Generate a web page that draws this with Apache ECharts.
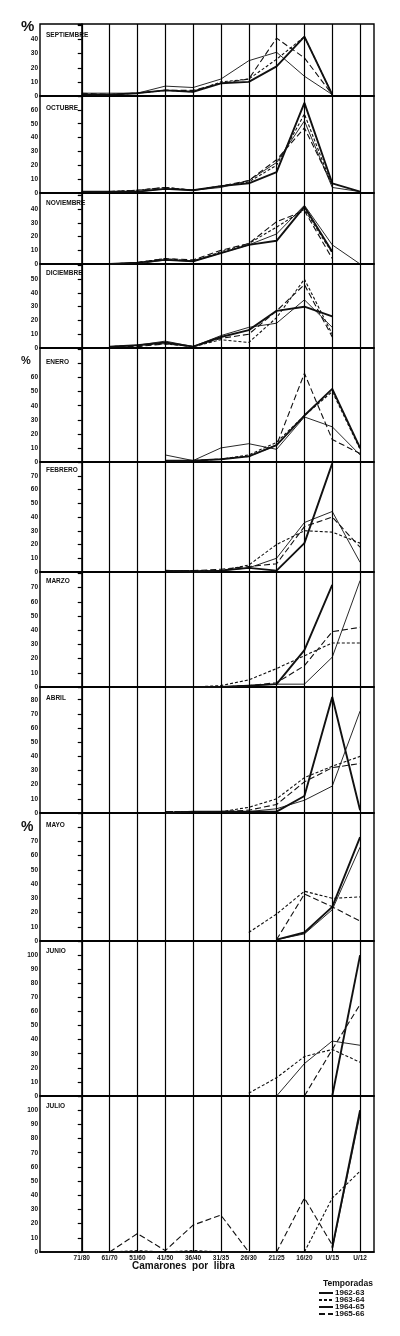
<!DOCTYPE html>
<html><head><meta charset="utf-8">
<script src="https://cdn.jsdelivr.net/npm/echarts@6/dist/echarts.min.js"></script>
<style>html,body{margin:0;padding:0;background:#fff}#c{width:400px;height:1336px}</style>
</head><body><div id="c"></div><script>
// ---- data ----
const categories = ['71/80','61/70','51/60','41/50','36/40','31/35','26/30','21/25','16/20','U/15','U/12'];
const seasons = ['1962-63','1963-64','1964-65','1965-66'];
const months = ['SEPTIEMBRE','OCTUBRE','NOVIEMBRE','DICIEMBRE','ENERO','FEBRERO','MARZO','ABRIL','MAYO','JUNIO','JULIO'];
const yTickLabelMax = [40,60,40,50,60,70,70,80,70,100,100];
const n = null;
// rows: 1962-63, 1963-64, 1964-65, 1965-66 (percent by category)
const septiembre = [
  [1,1,2,4,3,9,10,21,42,1,n],
  [1,1,2,4,3,10,12,26,42,1,n],
  [2,2,2,7,6,12,25,31,14,1,n],
  [2,1,2,4,4,9,12,41,27,1,n]];
const octubre = [
  [1,1,1,3,2,5,7,15,65,7,1],
  [1,1,2,4,2,5,8,20,57,5,n],
  [1,1,1,3,2,4,9,22,52,4,1],
  [1,1,2,4,2,5,9,24,47,6,n]];
const noviembre = [
  [n,0,1,3,2,8,14,17,42,9,n],
  [n,0,1,4,2,9,15,27,40,8,n],
  [n,0,0,3,2,8,14,22,43,14,0],
  [n,0,1,4,3,10,15,31,39,4,n]];
const diciembre = [
  [n,1,2,4,1,8,13,27,30,23,n],
  [n,1,2,3,1,6,4,22,50,10,n],
  [n,1,2,5,1,9,15,18,35,15,n],
  [n,1,1,3,1,7,10,27,46,8,n]];
const enero = [
  [n,n,n,1,1,2,4,12,33,52,10],
  [n,n,n,1,1,2,5,14,33,50,9],
  [n,n,n,5,1,10,13,9,32,25,5],
  [n,n,n,1,1,2,4,12,63,16,6]];
const febrero = [
  [n,n,n,1,0,1,3,1,21,79,n],
  [n,n,n,1,1,1,5,20,30,29,21],
  [n,n,n,1,1,1,3,10,36,44,7],
  [n,n,n,1,1,2,4,6,33,40,18]];
const marzo = [
  [n,n,n,0,0,0,1,2,26,72,n],
  [n,n,n,0,0,1,5,13,22,31,31],
  [n,n,n,0,0,0,1,2,2,21,75],
  [n,n,n,0,0,0,1,3,15,39,42]];
const abril = [
  [n,n,n,0,1,1,1,1,12,82,2],
  [n,n,n,1,1,1,4,10,25,33,40],
  [n,n,n,0,1,1,1,3,9,19,72],
  [n,n,n,1,1,1,2,6,22,32,35]];
const mayo = [
  [n,n,n,n,n,n,n,1,6,24,73],
  [n,n,n,n,n,n,6,19,35,30,31],
  [n,n,n,n,n,n,n,1,5,22,66],
  [n,n,n,n,n,n,n,1,33,24,14]];
const junio = [
  [n,n,n,n,n,n,n,n,n,0,100],
  [n,n,n,n,n,n,2,13,28,33,24],
  [n,n,n,n,n,n,n,0,23,39,36],
  [n,n,n,n,n,n,n,n,0,33,65]];
const julio = [
  [n,n,n,n,n,n,n,n,n,3,100],
  [n,0,1,0,1,0,0,0,0,38,57],
  [n,n,n,n,n,n,n,n,n,2,97],
  [n,0,13,1,19,26,0,0,38,5,n]];
const monthData = [septiembre,octubre,noviembre,diciembre,enero,febrero,marzo,abril,mayo,junio,julio];

// ---- layout ----
const panelTops = [24,96,193,264,348,462,572,687,813,941,1096];
const panelBottom = 1252;
const panelMax = [51,70,52,61,81,80,81,89,90,110,110];
const lineStyles = [
  {width:1.9, type:'solid', color:'#111'},
  {width:1.1, type:[3,2], color:'#111'},
  {width:0.9, type:'solid', color:'#111'},
  {width:1.1, type:[6,3], color:'#111'}];
const FONT = 'Liberation Sans';

const grids=[], xAxes=[], yAxes=[], series=[], graphics=[];
panelTops.forEach((top,i)=>{
  const bottom = i<panelTops.length-1 ? panelTops[i+1] : panelBottom;
  grids.push({left:40, width:334, top:top, height:bottom-top, show:true, borderColor:'#000', borderWidth:1.4});
  const last = i===panelTops.length-1;
  xAxes.push({gridIndex:i, type:'value', min:-1.5, max:10.5, interval:0.5,
    axisLine:{show:true, onZero:false, lineStyle:{color:'#000', width:1.6}},
    axisTick:{show:false}, splitLine:{show:false},
    axisLabel: last ? {show:true, fontSize:6.5, fontWeight:'bold', fontFamily:FONT, color:'#111', margin:3,
      formatter:v=>{const r=Math.round(v); return (Math.abs(v-r)<1e-6 && r>=0 && r<categories.length)?categories[r]:'';}} : {show:false}});
  const lim = yTickLabelMax[i];
  yAxes.push({gridIndex:i, type:'value', min:0, max:panelMax[i], interval:10,
    axisLine:{show:true, lineStyle:{color:'#000', width:1.6}},
    axisTick:{show:true, length:4, lineStyle:{color:'#000', width:1.2}},
    splitLine:{show:false},
    axisLabel:{fontSize:6.5, fontWeight:'bold', fontFamily:FONT, color:'#111', margin:2,
      formatter:v=> v<=lim ? String(v) : ''}});
  monthData[i].forEach((row,j)=>{
    const s = {type:'line', name:seasons[j], xAxisIndex:i, yAxisIndex:i,
      data: row.map((v,k)=>[k, v===null?'-':v]), symbol:'none', showSymbol:false,
      lineStyle:lineStyles[j], itemStyle:{color:'#111'}, color:'#111', silent:true, animation:false, z:3};
    if(j===0){
      s.markLine = {silent:true, symbol:['none','none'], label:{show:false}, animation:false,
        lineStyle:{color:'#000', type:'solid', width:1.2},
        emphasis:{disabled:true},
        data: categories.map((c,k)=>({xAxis:k}))};
    }
    series.push(s);
  });
  const titleY = [35,108,203,273,362,470,581,698,825,951,1106][i];
  graphics.push({type:'text', left:46, top:titleY-3.5, style:{text:months[i], font:'bold 6.5px "'+FONT+'"', fill:'#111'}});
});
// % signs
graphics.push({type:'text', left:21, top:19, style:{text:'%', font:'bold 15px "'+FONT+'"', fill:'#111'}});
graphics.push({type:'text', left:21, top:355, style:{text:'%', font:'bold 11px "'+FONT+'"', fill:'#111'}});
graphics.push({type:'text', left:21, top:820, style:{text:'%', font:'bold 14px "'+FONT+'"', fill:'#111'}});
graphics.push({type:'text', left:132, top:1261, style:{text:'Camarones  por  libra', font:'bold 10px "'+FONT+'"', fill:'#111'}});
graphics.push({type:'text', left:323, top:1279, style:{text:'Temporadas', font:'bold 8.5px "'+FONT+'"', fill:'#111'}});

const chart = echarts.init(document.getElementById('c'), null, {renderer:'canvas'});
chart.setOption({
  animation:false,
  backgroundColor:'#fff',
  grid:grids, xAxis:xAxes, yAxis:yAxes, series:series, graphic:graphics,
  legend:{data:seasons, orient:'vertical', left:318, top:1289, itemWidth:14, itemHeight:5, itemGap:-1,
    selectedMode:false, padding:0,
    itemStyle:{color:'rgba(0,0,0,0)', borderWidth:0, opacity:0},
    textStyle:{fontSize:8, fontWeight:'bold', fontFamily:FONT, color:'#111', padding:[0,0,0,-3], lineHeight:8}}
});
</script></body></html>
